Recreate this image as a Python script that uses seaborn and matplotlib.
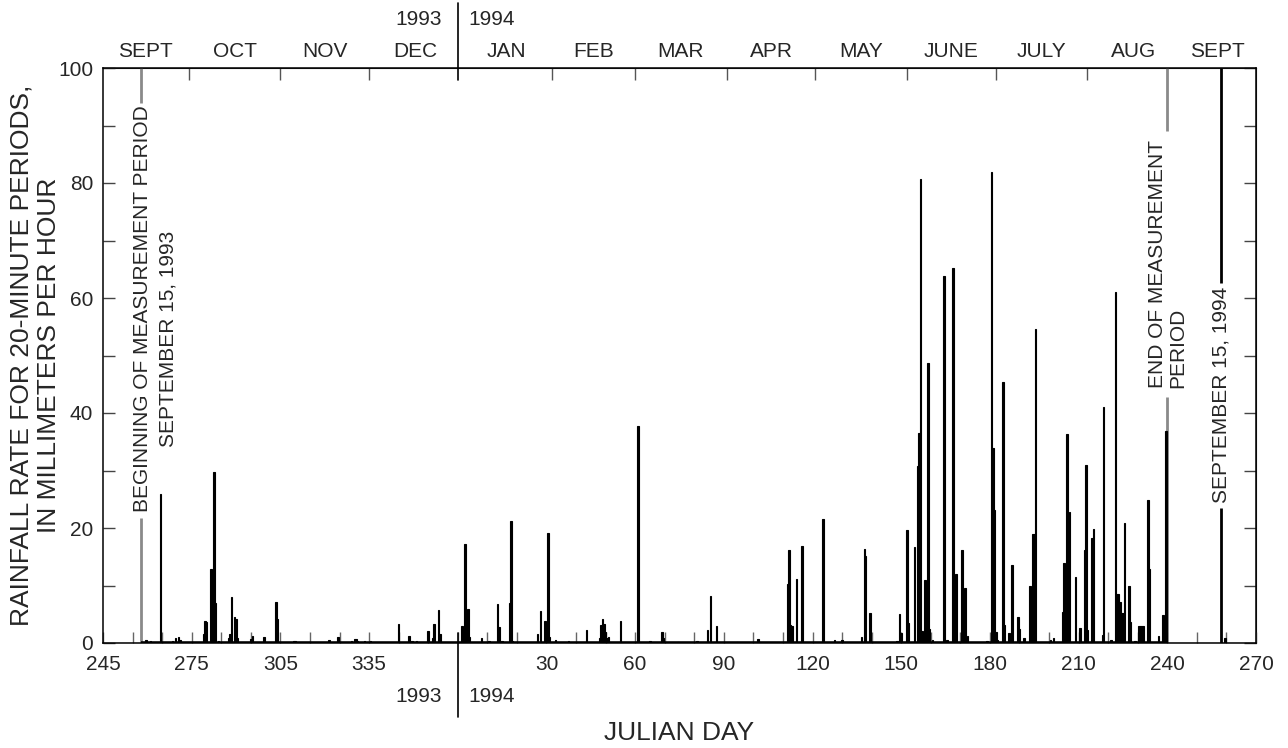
import numpy as np
import pandas as pd
import matplotlib
matplotlib.use("Agg")
import matplotlib.pyplot as plt
import seaborn as sns

# ---- 20-minute rainfall-rate peaks (julian day of year, mm/h) ----
day_1993 = [259.5, 261.0, 264.5, 268.5, 269.5, 270.5, 271.0, 279.0, 279.5, 280.0,
            281.5, 282.5, 283.0, 284.0, 287.5, 288.0, 288.5, 289.5, 290.0, 290.5,
            295.0, 295.5, 299.5, 303.5, 304.0, 309.5, 310.0, 321.5, 324.5, 329.0,
            330.0, 330.5, 331.0, 333.5, 335.5, 345.0, 348.5, 349.5, 351.0, 355.0,
            356.5, 357.0, 358.5, 359.0]
rate_1993 = [0.6, 0.3, 26.0, 0.4, 0.8, 1.0, 0.5, 1.5, 3.8, 3.6,
             12.9, 29.7, 7.0, 0.3, 0.8, 1.5, 8.0, 4.6, 4.2, 0.8,
             0.7, 1.2, 1.1, 7.2, 4.2, 0.3, 0.3, 0.5, 1.0, 0.3,
             0.7, 0.7, 0.4, 0.3, 0.3, 3.3, 1.2, 0.3, 0.3, 2.1,
             0.8, 3.3, 5.7, 1.5]

day_1994 = [1.5, 2.5, 3.0, 3.5, 4.0, 8.0, 10.5, 13.5, 14.0, 15.0,
            17.5, 18.0, 18.5, 27.0, 28.0, 29.5, 30.5, 31.0, 33.0, 37.5,
            43.5, 48.0, 48.5, 49.0, 49.5, 50.0, 50.5, 51.0, 55.0, 61.0,
            65.0, 69.0, 69.5, 74.5, 81.0, 84.5, 85.5, 87.5, 94.5, 101.5,
            111.5, 112.0, 112.5, 113.0, 114.5, 116.5, 123.5, 127.5, 130.0, 136.5,
            137.5, 138.0, 139.5, 148.5, 149.5, 150.0, 152.0, 152.5, 154.5, 155.5,
            156.0, 156.5, 157.0, 158.0, 159.0, 159.5, 160.5, 164.5, 165.5, 167.5,
            168.5, 170.5, 171.5, 172.5, 179.0, 180.5, 181.0, 181.5, 182.0, 182.5,
            184.5, 185.0, 186.5, 187.5, 189.5, 190.0, 191.5, 193.5, 194.5, 195.0,
            195.5, 200.5, 201.5, 204.5, 205.0, 206.0, 207.0, 209.0, 210.5, 212.0,
            212.5, 213.0, 214.5, 215.0, 218.0, 218.5, 221.0, 222.5, 223.0, 223.5,
            224.0, 224.5, 225.0, 225.5, 227.0, 227.5, 229.0, 230.5, 231.0, 231.5,
            232.0, 233.5, 234.0, 237.0, 238.5, 239.5, 259.5]
rate_1994 = [2.9, 17.3, 4.2, 5.9, 1.0, 0.8, 0.3, 6.8, 2.8, 0.3,
             7.0, 21.3, 0.3, 1.5, 5.5, 3.9, 19.2, 1.0, 0.5, 0.4,
             2.3, 0.9, 3.2, 4.2, 3.3, 2.0, 0.8, 1.0, 3.9, 37.8,
             0.3, 2.0, 0.8, 0.2, 0.3, 2.3, 8.1, 3.0, 0.2, 0.7,
             10.3, 16.2, 3.2, 3.0, 11.1, 16.8, 21.5, 0.5, 0.6, 1.1,
             16.4, 15.2, 5.3, 0.3, 5.1, 1.8, 19.6, 3.4, 16.7, 30.7,
             36.5, 80.7, 2.1, 10.9, 48.7, 2.5, 0.5, 63.8, 0.6, 65.2,
             12.0, 16.2, 9.6, 1.2, 0.3, 81.9, 34.0, 23.2, 2.0, 0.5,
             45.4, 3.1, 1.8, 13.6, 4.6, 2.4, 0.8, 9.9, 18.9, 18.9,
             54.6, 0.5, 0.9, 5.4, 14.0, 36.3, 22.7, 11.4, 2.6, 16.2,
             30.9, 2.2, 18.3, 19.8, 1.4, 41.1, 0.5, 61.0, 8.6, 8.6,
             7.2, 5.2, 5.2, 20.9, 9.9, 3.7, 0.4, 2.9, 2.9, 2.9,
             2.9, 24.9, 12.8, 1.2, 4.9, 36.9, 0.9]

# Measurement period (julian days)
start_day_1993 = 258   # September 15, 1993
end_day_1994 = 240     # end of measurement period
sept15_day_1994 = 258  # September 15, 1994

month_names = ["SEPT", "OCT", "NOV", "DEC", "JAN", "FEB", "MAR", "APR",
               "MAY", "JUNE", "JULY", "AUG", "SEPT"]
# first day of each month on the continuous 1993-94 day axis (1994 days offset by 365)
month_starts = [244, 274, 305, 335, 366, 397, 425, 456, 486, 517, 547, 578, 609, 639]

YEAR_LEN = 365
X_MIN, X_MAX = 245, YEAR_LEN + 270

df = pd.DataFrame({
    "t": list(day_1993) + [d + YEAR_LEN for d in day_1994],
    "rate": list(rate_1993) + list(rate_1994),
})

sns.set_style("ticks")
plt.rcParams["font.family"] = ["Liberation Sans", "DejaVu Sans"]

fig = plt.figure(figsize=(12.88, 7.48), dpi=100)
ax = fig.add_axes([103 / 1288, 105 / 748, 1153 / 1288, 575 / 748])

GRAY = "#8a8a8a"
TXT = 15

# measurement-period markers (drawn beneath the bars)
t_start = start_day_1993
t_end = end_day_1994 + YEAR_LEN
t_sep = sept15_day_1994 + YEAR_LEN
ax.vlines([t_start, t_start], [0, 93.9], [21.7, 100.4], color=GRAY, lw=2.0, zorder=1)
ax.vlines([t_end, t_end], [0, 89.0], [42.8, 100.4], color=GRAY, lw=2.0, zorder=1)
ax.vlines([t_sep, t_sep], [0, 62.6], [23.5, 100], color="black", lw=2.0, zorder=1)

# rainfall bars
sns.histplot(data=df, x="t", weights="rate", binwidth=0.5,
             binrange=(X_MIN - 0.25, X_MAX + 0.25), color="black",
             edgecolor="black", linewidth=0.8, alpha=1.0, element="bars",
             fill=True, ax=ax, zorder=3)
# zero line through the period with records
ax.hlines(0, t_start, t_end, color="black", lw=2.6, zorder=4)

ax.set_xlim(X_MIN, X_MAX)
ax.set_ylim(0, 100)
ax.set_xlabel("")
ax.set_ylabel("")

for s in ax.spines.values():
    s.set_visible(True)
    s.set_linewidth(1.1)
    s.set_color("black")

# bottom axis: ticks every 10 days, labels every 30 days
xt = np.arange(X_MIN, X_MAX + 1, 10)
xl = []
for t in xt:
    if (t - X_MIN) % 30 == 0 and t != YEAR_LEN:
        xl.append(str(t if t < YEAR_LEN else t - YEAR_LEN))
    else:
        xl.append("")
ax.set_xticks(xt)
ax.set_xticklabels(xl)
ax.tick_params(axis="x", which="major", direction="in", length=8, width=1,
               color="#666666", labelsize=TXT, pad=9, top=False)

# left axis
ax.set_yticks(np.arange(0, 101, 20))
ax.set_yticks(np.arange(0, 101, 10), minor=True)
ax.tick_params(axis="y", which="both", direction="in", length=8.6, width=1,
               color="#444444", labelsize=TXT, pad=7, right=False)

# right axis ticks
ax_r = ax.secondary_yaxis("right")
ax_r.set_yticks(np.arange(0, 101, 10))
ax_r.set_yticklabels([])
ax_r.tick_params(direction="in", length=8.6, width=1, color="#444444")

# top axis: month boundaries
ax_t = ax.secondary_xaxis("top")
ax_t.set_xticks([m for m in month_starts if X_MIN < m < X_MAX and m not in (366, 609)])
ax_t.set_xticklabels([])
ax_t.tick_params(direction="in", length=8.6, width=1, color="#555555")

xform = ax.get_xaxis_transform()
for name, a, b in zip(month_names, month_starts[:-1], month_starts[1:]):
    lo, hi = max(a, X_MIN), min(b, X_MAX)
    ax.text((lo + hi) / 2, 1.028, name, transform=xform, ha="center",
            va="center", fontsize=TXT)

# year boundary
ax.plot([YEAR_LEN, YEAR_LEN], [0.979, 1.113], transform=xform, color="black",
        lw=1.2, clip_on=False)
ax.plot([YEAR_LEN, YEAR_LEN], [0.017, -0.129], transform=xform, color="black",
        lw=1.2, clip_on=False)
for yy in (1.0835, -0.0934):
    ax.text(YEAR_LEN - 5.3, yy, "1993", transform=xform, ha="right",
            va="center", fontsize=TXT)
    ax.text(YEAR_LEN + 3.5, yy, "1994", transform=xform, ha="left",
            va="center", fontsize=TXT)

# annotations
ax.text(t_start + 0.5, 58.2, "BEGINNING OF MEASUREMENT PERIOD", rotation=90,
        ha="center", va="center", fontsize=TXT)
ax.text(t_start + 9.1, 52.9, "SEPTEMBER 15, 1993", rotation=90,
        ha="center", va="center", fontsize=TXT)
ax.text(t_end - 3.2, 44.3, "END OF MEASUREMENT", rotation=90,
        ha="center", va="bottom", fontsize=TXT)
ax.text(t_end + 3.6, 44.3, "PERIOD", rotation=90,
        ha="center", va="bottom", fontsize=TXT)
ax.text(t_sep + 0.3, 43.1, "SEPTEMBER 15, 1994", rotation=90,
        ha="center", va="center", fontsize=TXT)

# axis titles
fig.text(35 / 1288, (748 - 355) / 748,
         "RAINFALL RATE FOR 20-MINUTE PERIODS,\nIN MILLIMETERS PER HOUR",
         rotation=90, ha="center", va="center", multialignment="center",
         fontsize=19)
fig.text(679.5 / 1288, (748 - 733) / 748, "JULIAN DAY", ha="center",
         va="center", fontsize=19)

fig.savefig("out.png", dpi=100)
